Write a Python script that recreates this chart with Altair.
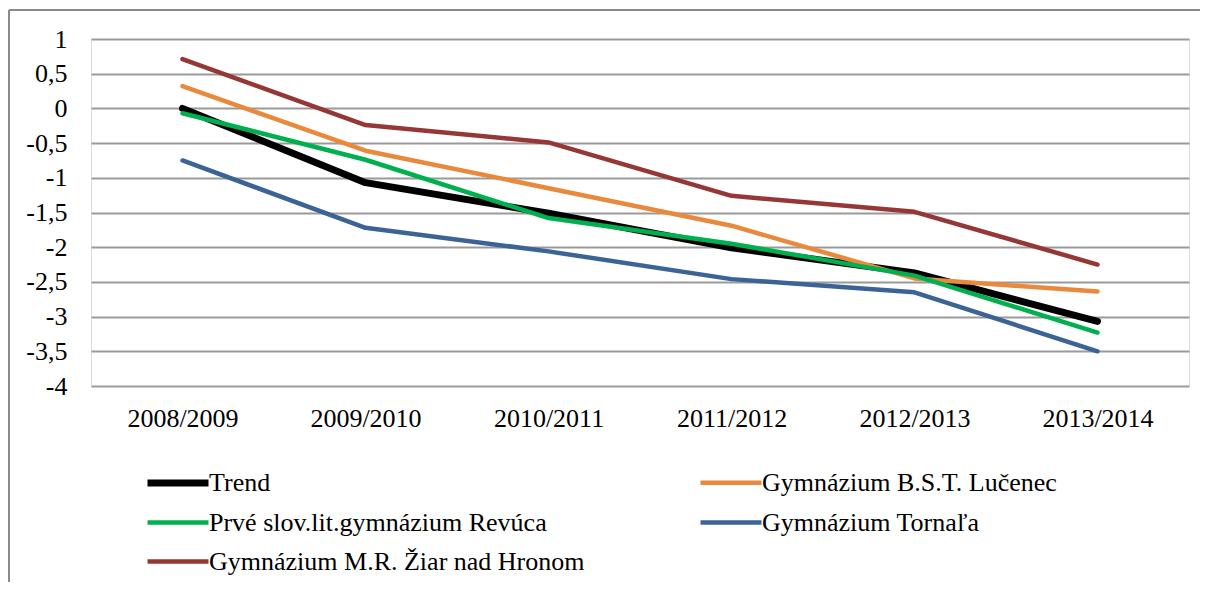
import altair as alt
import pandas as pd

years = ["2008/2009", "2009/2010", "2010/2011", "2011/2012", "2012/2013", "2013/2014"]
series_names = [
    "Trend",
    "Gymnázium B.S.T. Lučenec",
    "Prvé slov.lit.gymnázium Revúca",
    "Gymnázium Tornaľa",
    "Gymnázium M.R. Žiar nad Hronom",
]
# legend order (filled column by column): Trend, Revúca, Žiar | Lučenec, Tornaľa
legend_order = [series_names[0], series_names[2], series_names[4], series_names[1], series_names[3]]
trend = [0.0, -1.07, -1.51, -2.01, -2.37, -3.07]
lucenec = [0.32, -0.61, -1.15, -1.69, -2.45, -2.64]
revuca = [-0.07, -0.74, -1.58, -1.95, -2.41, -3.23]
tornala = [-0.75, -1.72, -2.06, -2.46, -2.65, -3.50]
ziar = [0.71, -0.24, -0.49, -1.26, -1.49, -2.25]
colors = ["#000000", "#E8893B", "#00B050", "#3B6396", "#953735"]
widths = [7, 4.5, 4.5, 4.5, 4.5]

color_map = dict(zip(series_names, colors))
width_map = dict(zip(series_names, widths))

values = [trend, lucenec, revuca, tornala, ziar]
rows = []
for name, vals in zip(series_names, values):
    for y, v in zip(years, vals):
        rows.append({"year": y, "value": v, "series": name})
df = pd.DataFrame(rows)

FONT = "Liberation Serif"

color_enc = alt.Color(
    "series:N",
    scale=alt.Scale(domain=legend_order, range=[color_map[n] for n in legend_order]),
    legend=alt.Legend(
        title=None,
        orient="none",
        legendX=68,
        legendY=425,
        columns=2,
        columnPadding=106,
        rowPadding=8,
        padding=0,
        symbolType="M-2,0H2",
        symbolSize=930,
        labelOffset=12,
        labelFont=FONT,
        labelFontSize=26,
        labelColor="#000000",
        labelLimit=0,
    ),
)
width_enc = alt.StrokeWidth(
    "series:N",
    scale=alt.Scale(
        type="ordinal",
        domain=legend_order,
        range=[width_map[n] for n in legend_order],
    ),
)

x_enc = alt.X(
    "year:O",
    sort=years,
    scale=alt.Scale(domain=years, padding=0.5),
    axis=alt.Axis(
        title=None,
        labelAngle=0,
        domain=False,
        ticks=False,
        grid=False,
        labelFont=FONT,
        labelFontSize=26,
        labelColor="#000000",
        labelPadding=19,
        labelBaseline="top",
    ),
)
y_enc = alt.Y(
    "value:Q",
    scale=alt.Scale(domain=[-4, 1], nice=False, zero=False),
    axis=alt.Axis(
        title=None,
        values=[1, 0.5, 0, -0.5, -1, -1.5, -2, -2.5, -3, -3.5, -4],
        labelExpr="replace(toString(datum.value), '.', ',')",
        domain=False,
        ticks=False,
        grid=True,
        gridColor="#9a9a9a",
        gridWidth=2,
        labelFont=FONT,
        labelFontSize=26,
        labelColor="#000000",
        labelPadding=24,
    ),
)

layers = []
for name in series_names:
    layers.append(
        alt.Chart(df)
        .transform_filter(alt.datum.series == name)
        .mark_line(strokeCap="round", strokeJoin="round")
        .encode(x=x_enc, y=y_enc, color=color_enc, strokeWidth=width_enc)
    )

frame_df = pd.DataFrame({"k": [0]})
top_rule = alt.Chart(frame_df).mark_rule(color="#8a8a8a", strokeWidth=2).encode(
    x=alt.value(-82), x2=alt.value(1117), y=alt.value(-29)
)
left_rule = alt.Chart(frame_df).mark_rule(color="#8a8a8a", strokeWidth=2).encode(
    x=alt.value(-82), y=alt.value(-29), y2=alt.value(545)
)

chart = (
    alt.layer(*layers, top_rule, left_rule)
    .resolve_scale(color="shared", strokeWidth="shared")
    .properties(
        width=1098,
        height=347,
        autosize=alt.AutoSizeParams(type="none"),
        padding={"left": 83, "top": 31, "right": 11, "bottom": 196},
    )
    .configure_view(stroke=None)
    .configure(background="#ffffff")
)

chart.save("out.html", embed_options={"renderer": "svg", "actions": False})
